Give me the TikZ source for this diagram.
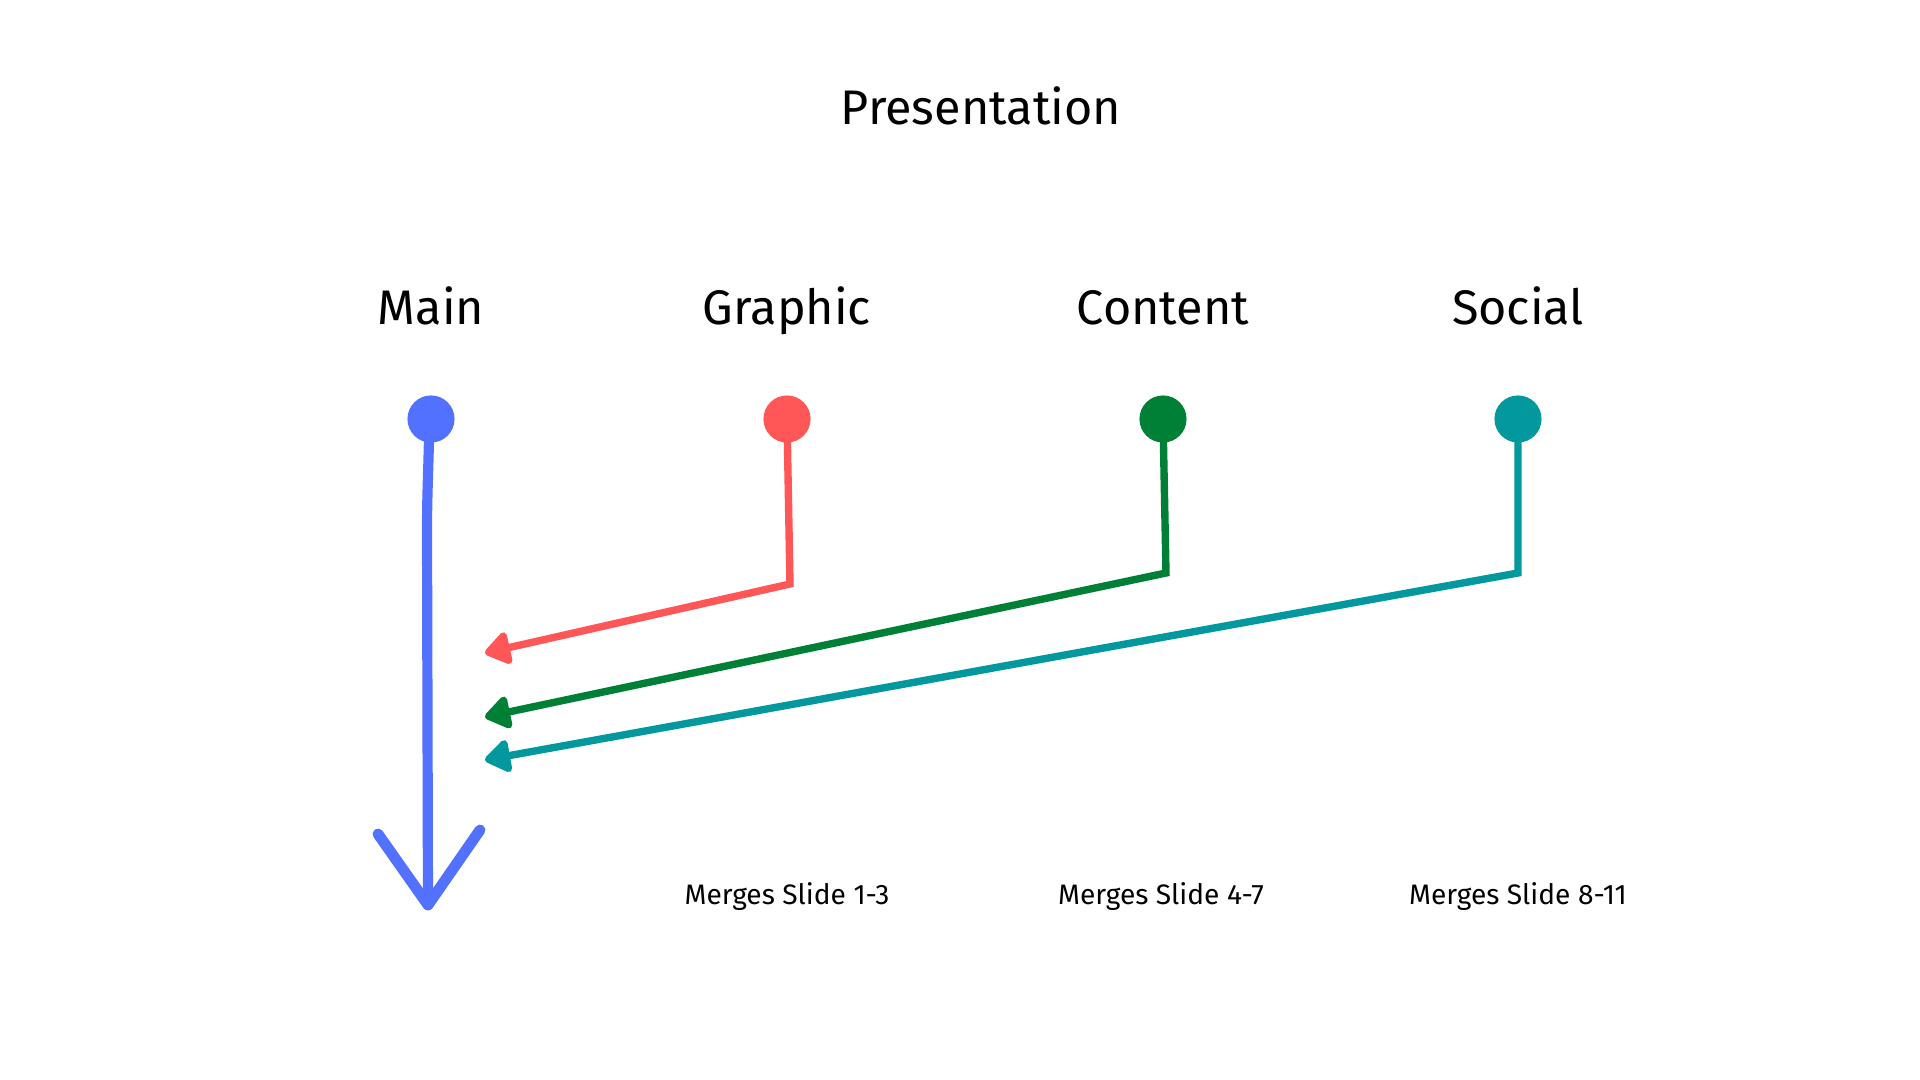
\documentclass[tikz,border=0pt]{standalone}
\usepackage{fontspec}
\setmainfont{Fira Sans}
\usetikzlibrary{arrows.meta}
\definecolor{cblue}{HTML}{5271FF}
\definecolor{cred}{HTML}{FF5757}
\definecolor{cgreen}{HTML}{008037}
\definecolor{cteal}{HTML}{03989E}
\tikzset{
  head/.style={font=\fontsize{13.8pt}{16pt}\selectfont, text=black, inner sep=0pt, anchor=base},
  small/.style={font=\fontsize{8pt}{9.6pt}\selectfont, text=black, inner sep=0pt, anchor=base},
  dot/.style={circle, fill=#1, minimum size=13.4pt, inner sep=0pt},
  link/.style={draw=#1, line width=2.1pt, line join=miter, -{Triangle[length=8pt,width=10.5pt,round]}},
}
\begin{document}
\begin{tikzpicture}[x=0.01cm,y=-0.01cm]
\useasboundingbox[fill=white] (0,0) rectangle (1920,1080);
% titles
\node[head] (title) at (981,125) {Presentation};
\node[head] (lmain) at (431,325) {Main};
\node[head] (lgraph) at (787,325) {Graphic};
\node[head] (lcont) at (1163,325) {Content};
\node[head] (lsoc) at (1518,325) {Social};
% dots
\node[dot=cblue] (dmain) at (431,419) {};
\node[dot=cred] (dgraph) at (787,419) {};
\node[dot=cgreen] (dcont) at (1163,419) {};
\node[dot=cteal] (dsoc) at (1518,419) {};
% corners and tips
\coordinate (cgraph) at (790,584);
\coordinate (ccont) at (1166,573);
\coordinate (csoc) at (1518,573);
\coordinate (tgraph) at (485,653);
\coordinate (tcont) at (485,717);
\coordinate (tsoc) at (485,760);
\coordinate (mtip) at (428,905);
\coordinate (mleft) at (378,834);
\coordinate (mright) at (480,830);
% main arrow
\draw[cblue, line width=2.9pt, line cap=round] (dmain.center) -- (429,440) .. controls (428,480) and (427,500) .. (427,530) -- (mtip);
\draw[cblue, line width=3.1pt, line cap=round, line join=round] (mleft) -- (mtip) -- (mright);
% merging arrows
\draw[link=cred] (dgraph.center) -- (cgraph) -- (tgraph);
\draw[link=cgreen] (dcont.center) -- (ccont) -- (tcont);
\draw[link=cteal] (dsoc.center) -- (csoc) -- (tsoc);
% captions
\node[small] (sgraph) at (787,905) {Merges Slide 1-3};
\node[small] (scont) at (1161,905) {Merges Slide 4-7};
\node[small] (ssoc) at (1518,905) {Merges Slide 8-11};
\end{tikzpicture}
\end{document}
